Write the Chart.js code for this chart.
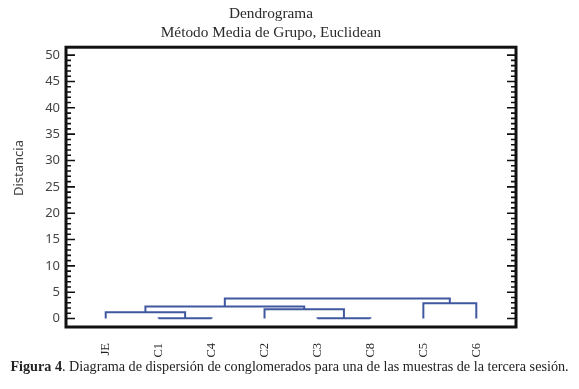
<!DOCTYPE html>
<html>
<head>
<meta charset="utf-8">
<script src="https://cdn.jsdelivr.net/npm/chart.js@4/dist/chart.umd.min.js"></script>
<style>
  body { margin: 0; background: #fff; }
  #wrap { position: relative; width: 579px; height: 389px; }
  #caption {
    position: absolute; left: 0; top: 358px; width: 579px;
    text-align: center; white-space: nowrap;
    font: 14.2px "Liberation Serif", serif; line-height: 16px; color: #222;
  }
</style>
</head>
<body>
<div id="wrap">
  <canvas id="chart" width="579" height="389"></canvas>
  <div id="caption"><b>Figura 4</b>. Diagrama de dispersión de conglomerados para una de las muestras de la tercera sesión.</div>
</div>
<script>
var leaves = ['JE', 'C1', 'C4', 'C2', 'C3', 'C8', 'C5', 'C6'];
// each merge joins cluster a and cluster b at a distance
// ids 0-7 are the leaves, merge i gets id 8+i
var merge_a = [1, 4, 0, 3, 10, 6, 12];
var merge_b = [2, 5, 8, 9, 11, 7, 13];
var merge_h = [0.05, 0.05, 1.2, 1.75, 2.3, 2.9, 3.8];
var y_ticks = [0, 5, 10, 15, 20, 25, 30, 35, 40, 45, 50];

var pos = leaves.map(function (l, i) { return i + 1; });
var hgt = leaves.map(function () { return 0; });
var datasets = [];
for (let i = 0; i < merge_h.length; i++) {
  const a = merge_a[i], b = merge_b[i], h = merge_h[i];
  datasets.push({
    data: [
      { x: pos[a], y: hgt[a] },
      { x: pos[a], y: h },
      { x: pos[b], y: h },
      { x: pos[b], y: hgt[b] },
    ],
    showLine: true,
    borderColor: '#3f58a0',
    borderWidth: 2,
    pointRadius: 0,
    tension: 0,
  });
  pos.push((pos[a] + pos[b]) / 2);
  hgt.push(h);
}

// box round the plot, inner ticks left and right, y axis title
const frame = {
  id: 'frame',
  afterDatasetsDraw(chart) {
    const ctx = chart.ctx, a = chart.chartArea, y = chart.scales.y;
    ctx.save();
    ctx.strokeStyle = '#111';
    ctx.lineWidth = 1.6;
    for (let v = y_ticks[0]; v <= y_ticks[y_ticks.length - 1]; v++) {
      const py = y.getPixelForValue(v);
      const len = v % 5 === 0 ? 9 : 5;
      ctx.beginPath();
      ctx.moveTo(a.left, py); ctx.lineTo(a.left + len, py);
      ctx.moveTo(a.right, py); ctx.lineTo(a.right - len, py);
      ctx.stroke();
    }
    ctx.lineWidth = 3;
    ctx.strokeRect(a.left, a.top, a.right - a.left, a.bottom - a.top);
    ctx.translate(19, 168);
    ctx.rotate(-Math.PI / 2);
    ctx.fillStyle = '#444';
    ctx.font = '13px "Noto Sans"';
    ctx.textAlign = 'center';
    ctx.textBaseline = 'middle';
    ctx.fillText('Distancia', 0, 0);
    ctx.restore();
  }
};

const ctx = document.getElementById('chart').getContext('2d');
const myChart = new Chart(ctx, {
  type: 'scatter',
  data: { datasets: datasets },
  plugins: [frame],
  options: {
    responsive: false,
    animation: false,
    layout: { padding: { left: 0, right: 37, top: 0, bottom: 0 } },
    plugins: {
      legend: { display: false },
      tooltip: { enabled: false },
      title: {
        display: true,
        text: 'Dendrograma',
        color: '#2b2b2b',
        font: { family: 'Liberation Serif', size: 15.3, weight: 'normal' },
        padding: { top: 4.5, bottom: 0 },
      },
      subtitle: {
        display: true,
        text: 'Método Media de Grupo, Euclidean',
        color: '#2b2b2b',
        font: { family: 'Liberation Serif', size: 15.3 },
        padding: { top: 1.2, bottom: 4.8 },
      },
    },
    scales: {
      x: {
        type: 'linear',
        min: 0.25,
        max: 8.75,
        afterBuildTicks: function (s) { s.ticks = leaves.map(function (l, i) { return { value: i + 1 }; }); },
        afterFit: function (s) { s.height = 62; },
        grid: { display: false, drawTicks: false },
        border: { display: false },
        ticks: {
          autoSkip: false,
          minRotation: 90,
          maxRotation: 90,
          padding: 16,
          color: '#222',
          font: { family: 'Liberation Serif', size: 12.5 },
          callback: function (v) { return leaves[v - 1]; },
        },
      },
      y: {
        min: -1.6,
        max: 51.5,
        afterBuildTicks: function (s) { s.ticks = y_ticks.map(function (v) { return { value: v }; }); },
        afterFit: function (s) { s.width = 66; },
        grid: { display: false, drawTicks: false },
        border: { display: false },
        ticks: { padding: 6, color: '#444', font: { family: 'Noto Sans', size: 13 } },
      },
      y2: {
        position: 'right',
        min: -1.6,
        max: 51.5,
        afterFit: function (s) { s.width = 26; },
        grid: { display: false, drawTicks: false },
        border: { display: false },
        ticks: { display: false },
      },
    },
  },
});
</script>
</body>
</html>
